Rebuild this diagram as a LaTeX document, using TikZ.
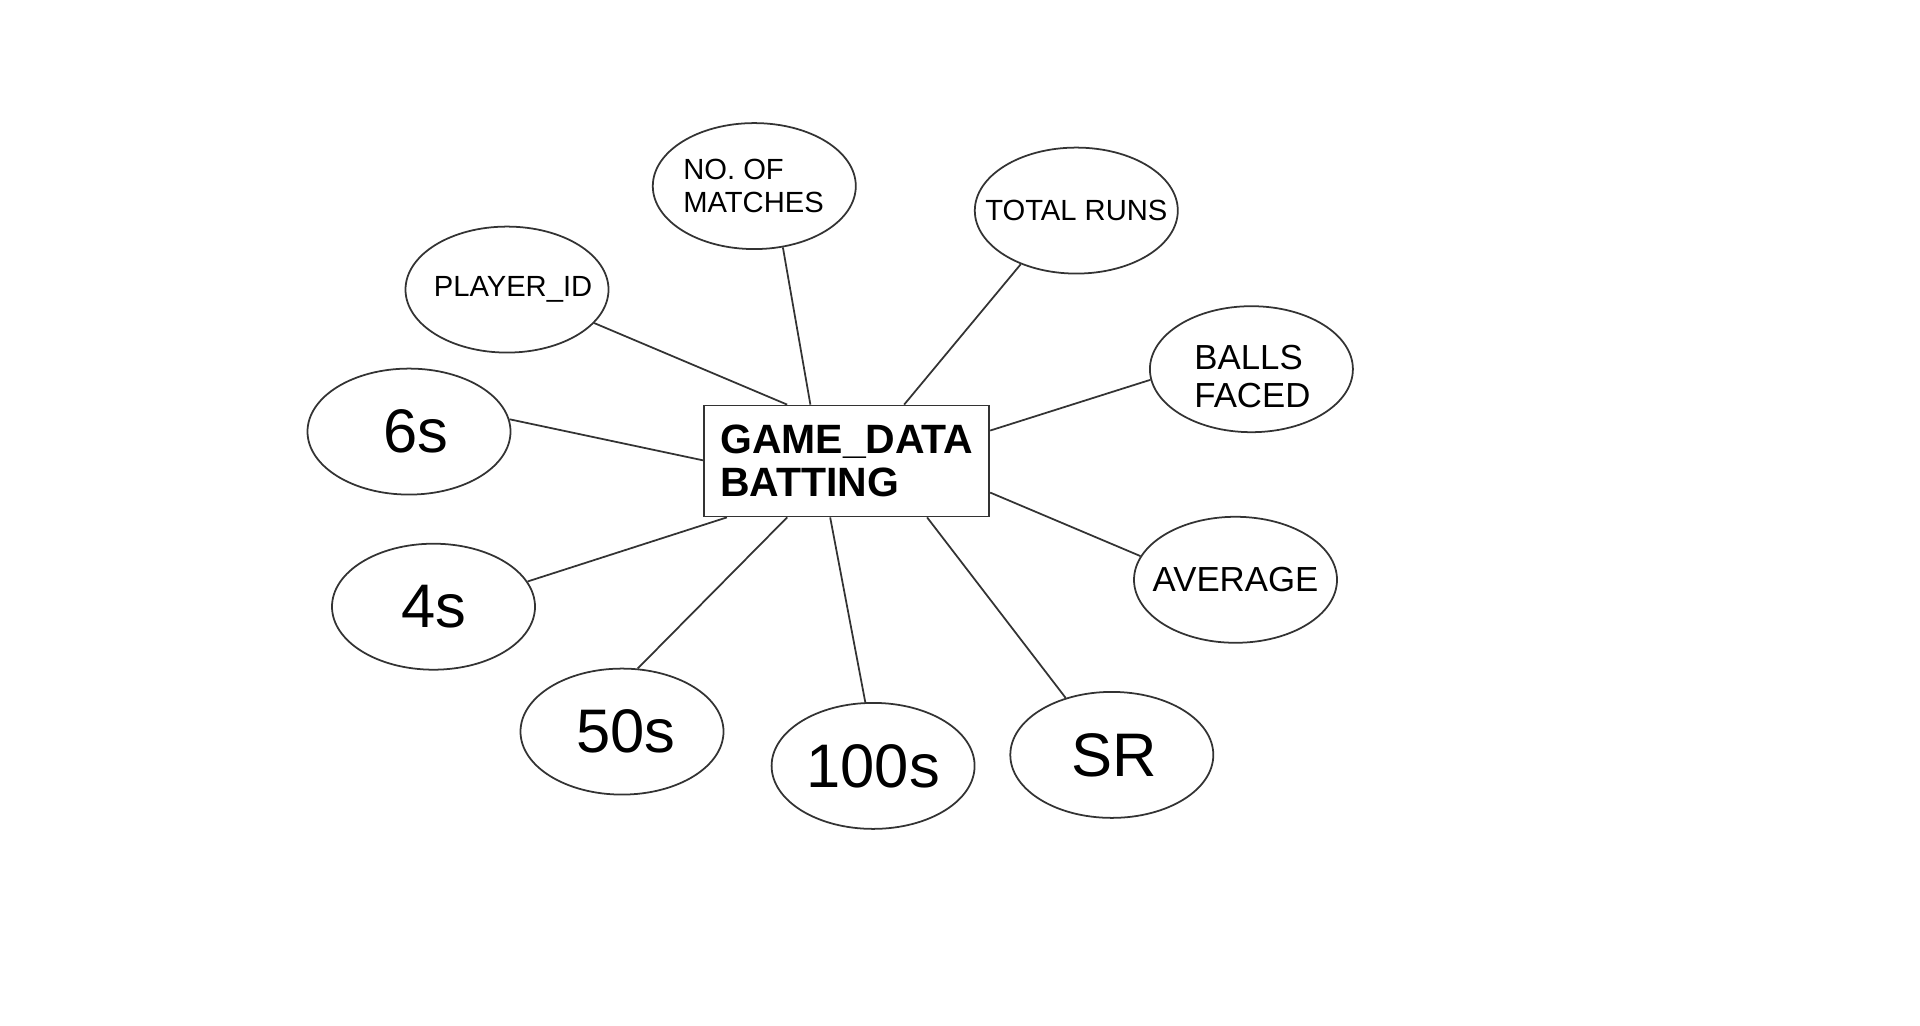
\documentclass[tikz,border=0pt]{standalone}
\usepackage{fontspec}
\setmainfont{Liberation Sans}
\usetikzlibrary{shapes.geometric,calc}
% text that does not widen the ellipse
\newcommand{\attxt}[1]{\makebox[0pt][c]{#1}}
% left set line, a bit lowered
\newcommand{\attln}[2]{\raisebox{-0.7mm}[\height][\depth]{\makebox[0pt][l]{\hspace*{#1}#2}}}

\begin{document}
\begin{tikzpicture}[line width=0.5pt,
  attrib/.style={ellipse,draw=black!80,minimum width=2.03cm,minimum height=1.26cm,inner sep=0pt,align=center},
  entity/.style={draw=black!80,minimum width=2.85cm,minimum height=1.11cm,inner sep=0pt,align=left,font=\fontsize{11.65}{12.4}\selectfont\bfseries},
  smalltxt/.style={font=\fontsize{8.3}{9.2}\selectfont},
  midtxt/.style={font=\fontsize{9.9}{10.8}\selectfont},
  bigtxt/.style={font=\fontsize{17.5}{20}\selectfont},
  link/.style={draw=black!80}]
  \useasboundingbox (0,0) rectangle (19.2,-10.26);
  % entidad
  \node[entity] (gd) at (8.468,-4.61){GAME\_DATA\\BATTING};
  % atributos de arriba
  \node[attrib,smalltxt] (pid) at (5.07,-2.896){\attxt{\hspace*{1.2mm}PLAYER\_ID}};
  \node[attrib,smalltxt] (nom) at (7.543,-1.861){\makebox[0pt][l]{\hspace*{-0.71cm}NO. OF}\\\makebox[0pt][l]{\hspace*{-0.71cm}MATCHES}};
  \node[attrib,smalltxt] (tr) at (10.763,-2.106){\attxt{TOTAL RUNS}};
  \node[attrib,midtxt] (bf) at (12.514,-3.692){\attln{-0.57cm}{BALLS}\\\attln{-0.57cm}{FACED}};
  \node[attrib,midtxt] (avg) at (12.355,-5.798){\attxt{AVERAGE}};
  % atributos de abajo
  \node[attrib,bigtxt] (sr) at (11.118,-7.549){\attxt{\hspace*{0.5mm}SR}};
  \node[attrib,bigtxt] (hun) at (8.731,-7.659){\attxt{100s}};
  \node[attrib,bigtxt] (fif) at (6.22,-7.316){\attxt{\hspace*{0.8mm}50s}};
  \node[attrib,bigtxt] (four) at (4.335,-6.067){\attxt{4s}};
  \node[attrib,bigtxt] (six) at (4.09,-4.316){\attxt{\hspace*{1.4mm}6s}};
  % conexiones
  \draw[link] (pid.-21.7) -- ($(gd.north west)!0.292!(gd.north east)$);
  \draw[link] (nom.-65.7) -- ($(gd.north west)!0.373!(gd.north east)$);
  \draw[link] (tr.-136.9) -- ($(gd.north west)!0.70!(gd.north east)$);
  \draw[link] (bf.186.6) -- ($(gd.north east)!0.23!(gd.south east)$);
  \draw[link] (avg.166.5) -- ($(gd.north east)!0.78!(gd.south east)$);
  \draw[link] (sr.129.1) -- ($(gd.south west)!0.78!(gd.south east)$);
  \draw[link] (hun.97.7) -- ($(gd.south west)!0.442!(gd.south east)$);
  \draw[link] (fif.76.6) -- ($(gd.south west)!0.292!(gd.south east)$);
  \draw[link] (four.15.4) -- ($(gd.south west)!0.082!(gd.south east)$);
  \draw[link] (six.7.2) -- ($(gd.north west)!0.495!(gd.south west)$);
\end{tikzpicture}
\end{document}
